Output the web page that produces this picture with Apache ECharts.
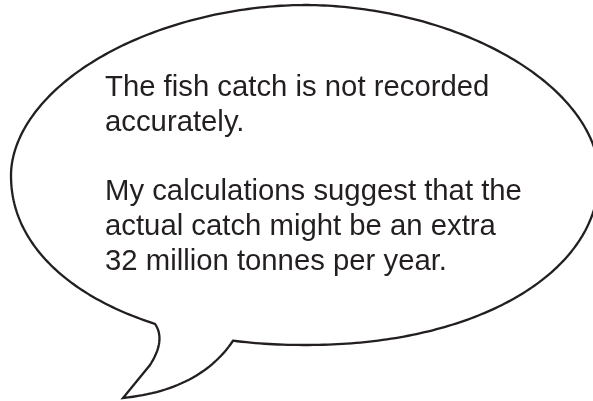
<!DOCTYPE html>
<html>
<head>
<meta charset="utf-8">
<script src="https://cdn.jsdelivr.net/npm/echarts@6/dist/echarts.min.js"></script>
<style>
  html, body { margin: 0; padding: 0; background: #ffffff; }
  #chart { width: 593px; height: 401px; }
</style>
</head>
<body>
<div id="chart"></div>
<script>
// Text content of the speech bubble (one entry per line; '' = blank line)
const textLines = [
  'The fish catch is not recorded',
  'accurately.',
  '',
  'My calculations suggest that the',
  'actual catch might be an extra',
  '32 million tonnes per year.'
];

// Bubble geometry (drawing layout, not data)
const bubble = {
  cx: 305, cy: 175, rx: 294, ry: 170,
  nTop: 1.9, nBottom: 2.1,
  joinLeftX: 155, joinRightX: 233
};
const tail = {
  leftCtrl: [166, 340], leftEnd: [150, 365],
  tip: [123, 398], rightCtrl: [200, 390]
};

function ellipsePoint(t) {
  const c = Math.cos(t), s = Math.sin(t);
  const n = s > 0 ? bubble.nBottom : bubble.nTop;
  const e = 2 / n;
  const x = bubble.cx + bubble.rx * Math.sign(c) * Math.pow(Math.abs(c), e);
  const y = bubble.cy + bubble.ry * Math.sign(s) * Math.pow(Math.abs(s), e);
  return [x, y];
}
function findAngle(targetX) {
  let lo = Math.PI / 2, hi = Math.PI;
  for (let i = 0; i < 60; i++) {
    const mid = (lo + hi) / 2;
    const x = ellipsePoint(mid)[0];
    if (x > targetX) lo = mid; else hi = mid;
  }
  return (lo + hi) / 2;
}
function quad(p0, p1, p2, steps) {
  const pts = [];
  for (let i = 1; i <= steps; i++) {
    const t = i / steps, u = 1 - t;
    pts.push([u*u*p0[0] + 2*u*t*p1[0] + t*t*p2[0], u*u*p0[1] + 2*u*t*p1[1] + t*t*p2[1]]);
  }
  return pts;
}

const tRight = findAngle(bubble.joinRightX);
const tLeft = findAngle(bubble.joinLeftX) - 2 * Math.PI;
const pts = [];
const N = 400;
for (let i = 0; i <= N; i++) {
  const t = tRight + (tLeft - tRight) * i / N;
  pts.push(ellipsePoint(t));
}
const j1 = pts[pts.length - 1];
const j2 = pts[0];
quad(j1, tail.leftCtrl, tail.leftEnd, 20).forEach(p => pts.push(p));
pts.push(tail.tip);
quad(tail.tip, tail.rightCtrl, j2, 30).forEach(p => pts.push(p));

const chart = echarts.init(document.getElementById('chart'), null, { renderer: 'canvas' });
chart.setOption({
  backgroundColor: '#ffffff',
  animation: false,
  graphic: [
    {
      type: 'polygon',
      shape: { points: pts },
      style: { fill: '#ffffff', stroke: '#231f20', lineWidth: 2.3, lineJoin: 'miter' },
      z: 1
    },
    {
      type: 'text',
      x: 105,
      y: 70.5,
      style: {
        text: textLines.join('\n'),
        font: '29.3px "Liberation Sans", Arial, sans-serif',
        fill: '#231f20',
        lineHeight: 34.8,
        verticalAlign: 'top',
        align: 'left'
      },
      z: 2
    }
  ]
});
</script>
</body>
</html>
